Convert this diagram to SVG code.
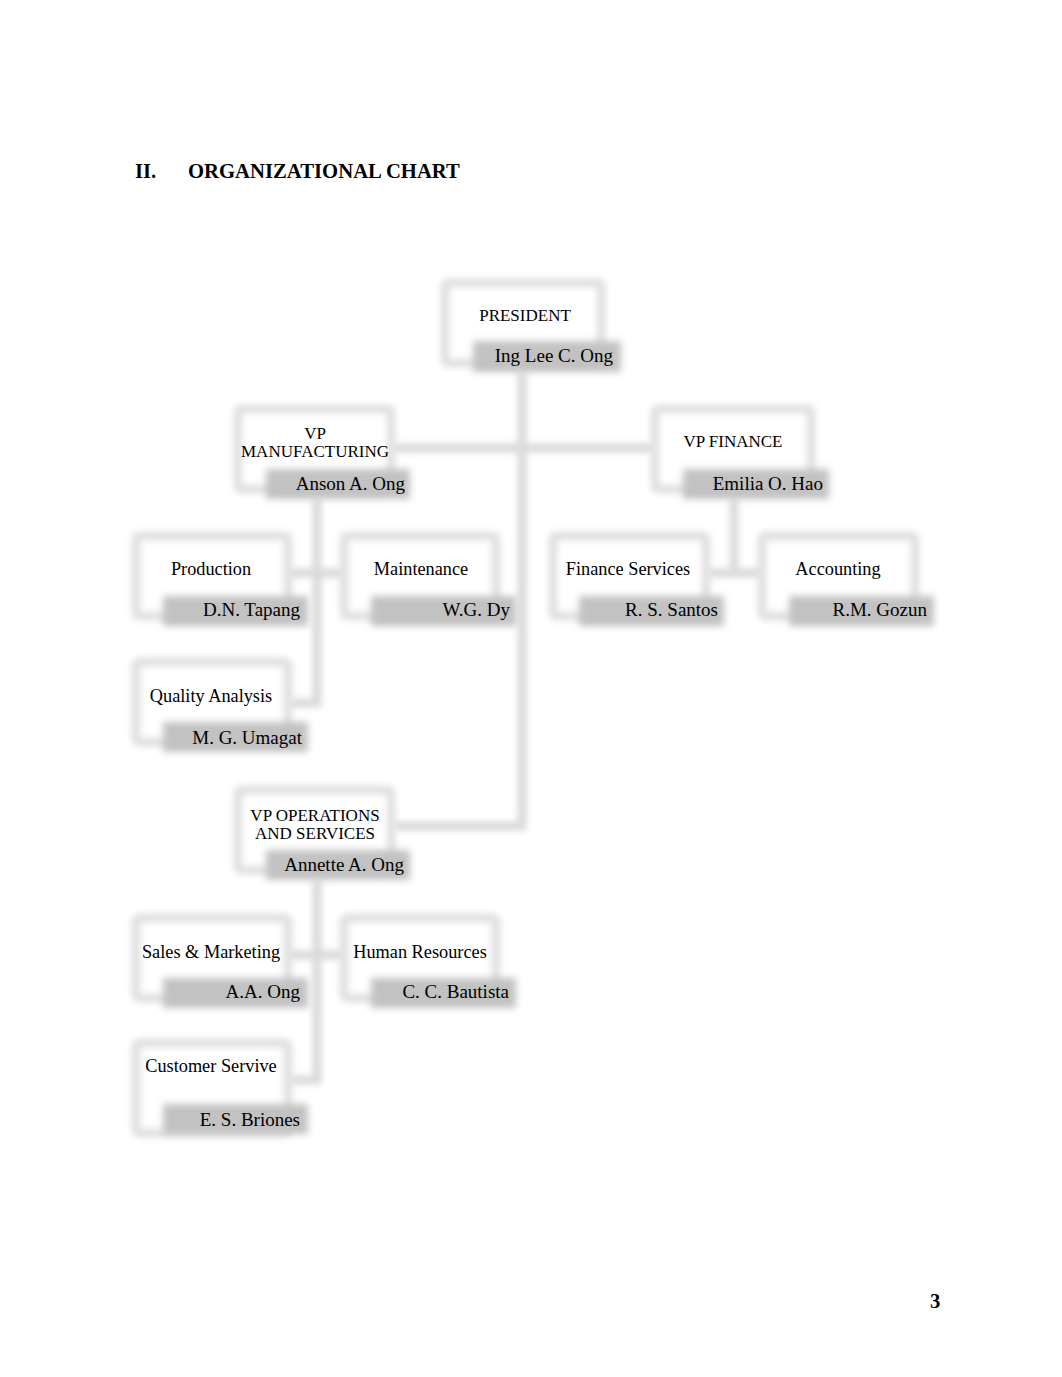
<svg xmlns="http://www.w3.org/2000/svg" width="1062" height="1377" viewBox="0 0 1062 1377">
<defs>
<filter id="blur" filterUnits="userSpaceOnUse" x="0" y="0" width="1062" height="1377"><feGaussianBlur stdDeviation="3"/></filter>
<filter id="blur2" filterUnits="userSpaceOnUse" x="0" y="0" width="1062" height="1377"><feGaussianBlur stdDeviation="3.8"/></filter>
</defs>
<style>
.frame{fill:#ffffff;stroke:#e0e0e0;stroke-width:9;filter:url(#blur)}
.band{fill:#c2c2c2;filter:url(#blur2)}
.conn{fill:none;stroke:#dadada;stroke-width:9;filter:url(#blur)}
.lbl{font-family:"Liberation Serif",serif;font-size:18.3px;fill:#000;text-anchor:middle}
.cap{font-family:"Liberation Serif",serif;font-size:17px;fill:#000;text-anchor:middle}
.nm{font-family:"Liberation Serif",serif;font-size:19px;fill:#000;text-anchor:end}
.hd{font-family:"Liberation Serif",serif;font-size:20.7px;font-weight:bold;fill:#000}
</style>
<rect width="1062" height="1377" fill="#ffffff"/>
<text class="hd" x="135" y="178">II.</text>
<text class="hd" x="188" y="178">ORGANIZATIONAL CHART</text>
<text class="hd" x="930" y="1308">3</text>

<g id="connectors">
<path class="conn" d="M522,372 V826 H394"/>
<path class="conn" d="M392,448 H655"/>
<path class="conn" d="M317,499 V703 H290"/>
<path class="conn" d="M288,573 H344"/>
<path class="conn" d="M734,499 V573"/>
<path class="conn" d="M707,573 H762"/>
<path class="conn" d="M317,880 V1080 H290"/>
<path class="conn" d="M288,955 H344"/>
</g>

<g id="president">
<rect class="frame" x="445" y="283" width="156" height="80" rx="3"/>
<rect class="band" x="473" y="341" width="148" height="31"/>
<text class="cap" x="525" y="321">PRESIDENT</text>
<text class="nm" x="613" y="362">Ing Lee C. Ong</text>
</g>

<g id="vp-manufacturing">
<rect class="frame" x="238" y="409" width="153" height="80" rx="3"/>
<rect class="band" x="266" y="469" width="144" height="30"/>
<text class="cap" x="315" y="439">VP</text>
<text class="cap" x="315" y="457">MANUFACTURING</text>
<text class="nm" x="405" y="490">Anson A. Ong</text>
</g>

<g id="vp-finance">
<rect class="frame" x="655" y="409" width="156" height="80" rx="3"/>
<rect class="band" x="683" y="469" width="146" height="30"/>
<text class="cap" x="733" y="447">VP FINANCE</text>
<text class="nm" x="823" y="490">Emilia O. Hao</text>
</g>

<g id="production">
<rect class="frame" x="136" y="536" width="152" height="80" rx="3"/>
<rect class="band" x="163" y="596" width="145" height="30"/>
<text class="lbl" x="211" y="575">Production</text>
<text class="nm" x="300" y="616">D.N. Tapang</text>
</g>

<g id="maintenance">
<rect class="frame" x="344" y="536" width="152" height="80" rx="3"/>
<rect class="band" x="371" y="596" width="145" height="30"/>
<text class="lbl" x="421" y="575">Maintenance</text>
<text class="nm" x="510" y="616">W.G. Dy</text>
</g>

<g id="finance-services">
<rect class="frame" x="553" y="536" width="153" height="80" rx="3"/>
<rect class="band" x="579" y="596" width="145" height="30"/>
<text class="lbl" x="628" y="575">Finance Services</text>
<text class="nm" x="718" y="616">R. S. Santos</text>
</g>

<g id="accounting">
<rect class="frame" x="762" y="536" width="153" height="80" rx="3"/>
<rect class="band" x="789" y="596" width="145" height="30"/>
<text class="lbl" x="838" y="575">Accounting</text>
<text class="nm" x="927" y="616">R.M. Gozun</text>
</g>

<g id="quality-analysis">
<rect class="frame" x="136" y="662" width="152" height="80" rx="3"/>
<rect class="band" x="163" y="722" width="145" height="30"/>
<text class="lbl" x="211" y="702">Quality Analysis</text>
<text class="nm" x="302" y="744">M. G. Umagat</text>
</g>

<g id="vp-operations">
<rect class="frame" x="238" y="790" width="153" height="80" rx="3"/>
<rect class="band" x="266" y="850" width="144" height="30"/>
<text class="cap" x="315" y="821">VP OPERATIONS</text>
<text class="cap" x="315" y="839">AND SERVICES</text>
<text class="nm" x="404" y="871">Annette A. Ong</text>
</g>

<g id="sales-marketing">
<rect class="frame" x="136" y="918" width="152" height="80" rx="3"/>
<rect class="band" x="163" y="978" width="145" height="30"/>
<text class="lbl" x="211" y="958">Sales &amp; Marketing</text>
<text class="nm" x="300" y="998">A.A. Ong</text>
</g>

<g id="human-resources">
<rect class="frame" x="344" y="918" width="152" height="80" rx="3"/>
<rect class="band" x="371" y="978" width="145" height="30"/>
<text class="lbl" x="420" y="958">Human Resources</text>
<text class="nm" x="509" y="998">C. C. Bautista</text>
</g>

<g id="customer-service">
<rect class="frame" x="136" y="1043" width="152" height="90" rx="3"/>
<rect class="band" x="163" y="1104" width="145" height="30"/>
<text class="lbl" x="211" y="1072">Customer Servive</text>
<text class="nm" x="300" y="1126">E. S. Briones</text>
</g>
</svg>
